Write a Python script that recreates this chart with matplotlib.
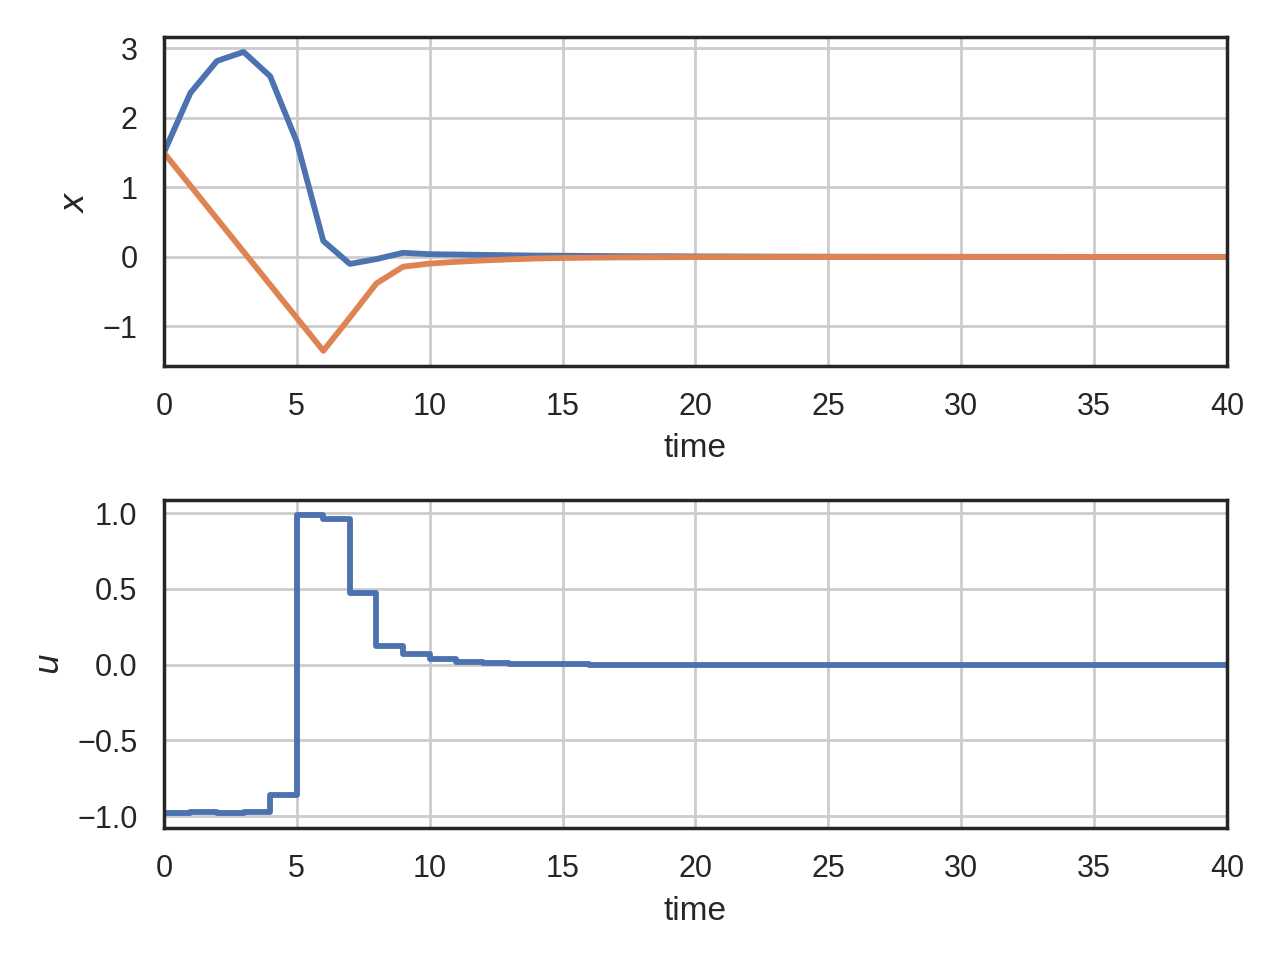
import matplotlib
matplotlib.use("Agg")
import matplotlib.pyplot as plt
import seaborn as sns
import numpy as np

t = list(range(41))
x1 = [1.5, 2.36, 2.82, 2.95, 2.60, 1.66, 0.23, -0.10, -0.03, 0.06, 0.04, 0.035, 0.03, 0.025, 0.02,
      0.018, 0.015, 0.012, 0.01, 0.01, 0.008, 0.007, 0.006, 0.005, 0.005, 0.004, 0.004, 0.003,
      0.003, 0.003, 0.002, 0.002, 0.002, 0.002, 0.001, 0.001, 0.001, 0.001, 0.001, 0.001, 0.001]
x2 = [1.5, 1.025, 0.55, 0.075, -0.40, -0.875, -1.35, -0.87, -0.38, -0.14, -0.095, -0.07, -0.05,
      -0.035, -0.022, -0.015, -0.01, -0.007, -0.005, -0.003, -0.002, -0.001, -0.001, 0, 0, 0, 0,
      0, 0, 0, 0, 0, 0, 0, 0, 0, 0, 0, 0, 0, 0]
u = [-0.98, -0.97, -0.98, -0.97, -0.86, 0.987, 0.96, 0.47, 0.123, 0.072, 0.035, 0.018, 0.009,
     0.006, 0.003, 0.001, 0.0005, 0, 0, 0, 0, 0, 0, 0, 0, 0, 0, 0, 0, 0, 0, 0, 0, 0, 0, 0, 0,
     0, 0, 0, 0]

sns.set_theme(style="white")
plt.rcParams['font.family'] = ['Liberation Sans', 'DejaVu Sans']

fig = plt.figure(figsize=(6.4, 4.8), dpi=200)
ax1 = fig.add_axes([0.128, 0.619, 0.8306, 0.3425])
ax2 = fig.add_axes([0.128, 0.1375, 0.8306, 0.3415])

blue = "#4c72b0"
orange = "#dd8452"

ax1.plot(t, x1, color=blue, lw=2.1)
ax1.plot(t, x2, color=orange, lw=2.1)
ax1.set_xlim(0, 40)
ax1.set_xlabel("time")
ax1.set_ylabel("$x$")
ax1.grid(True)

ax2.step(t, u, where="post", color=blue, lw=2.1)
ax2.set_xlim(0, 40)
ax2.set_xlabel("time")
ax2.set_ylabel("$u$")
ax2.grid(True)

for ax in (ax1, ax2):
    for s in ax.spines.values():
        s.set_color("#262626")
        s.set_linewidth(1.25)

fig.savefig("out.png", dpi=200)
